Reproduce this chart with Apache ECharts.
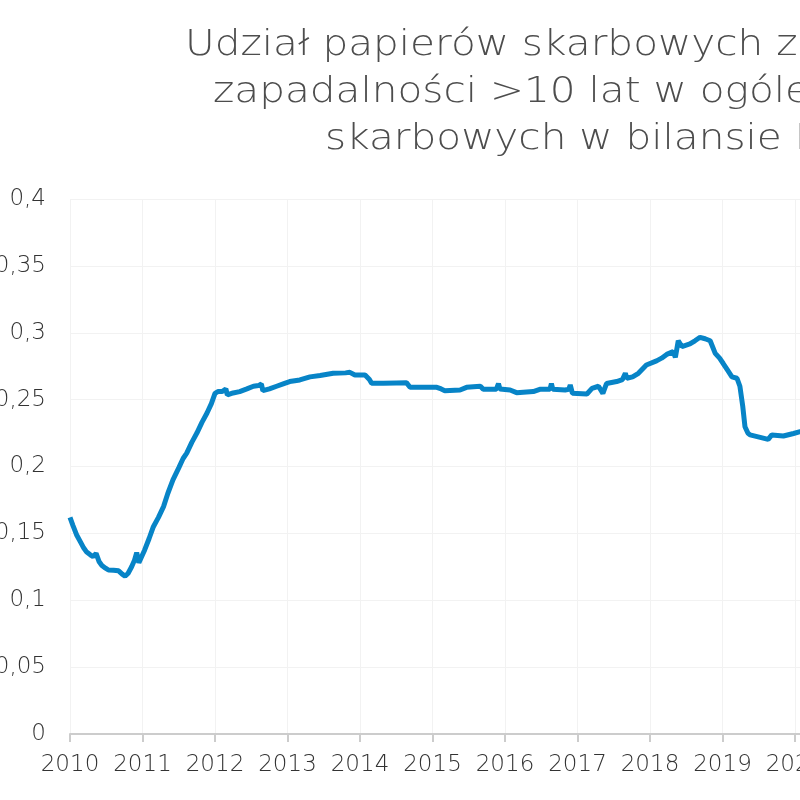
<!DOCTYPE html>
<html>
<head>
<meta charset="utf-8">
<script src="https://cdn.jsdelivr.net/npm/echarts@6/dist/echarts.min.js"></script>
<style>
html,body{margin:0;padding:0;background:#fff;}
#c{width:800px;height:800px;}
</style>
</head>
<body>
<div id="c"></div>
<script>
const titleLines = [
  'Udział papierów skarbowych z terminem',
  'zapadalności >10 lat w ogóle papierów',
  'skarbowych w bilansie Fed'
];
const yearTicks = [2010, 2011, 2012, 2013, 2014, 2015, 2016, 2017, 2018, 2019, 2020];
const dates = [
  2010.00, 2010.04, 2010.09, 2010.14, 2010.19, 2010.23, 2010.28, 2010.32, 2010.36, 2010.40,
  2010.44, 2010.49, 2010.53, 2010.60, 2010.67, 2010.72, 2010.76, 2010.80, 2010.85, 2010.89,
  2010.92, 2010.95, 2011.00, 2011.03, 2011.09, 2011.15, 2011.22, 2011.29, 2011.35, 2011.42,
  2011.50, 2011.56, 2011.61, 2011.68, 2011.75, 2011.82, 2011.89, 2011.95, 2012.00, 2012.04,
  2012.10, 2012.15, 2012.17, 2012.25, 2012.34, 2012.44, 2012.53, 2012.60, 2012.64, 2012.66,
  2012.75, 2012.85, 2012.95, 2013.03, 2013.17, 2013.31, 2013.45, 2013.63, 2013.80, 2013.86,
  2013.93, 2014.07, 2014.13, 2014.16, 2014.32, 2014.50, 2014.64, 2014.69, 2014.90, 2015.06,
  2015.12, 2015.17, 2015.38, 2015.47, 2015.66, 2015.70, 2015.88, 2015.91, 2015.93, 2016.07,
  2016.16, 2016.39, 2016.48, 2016.62, 2016.64, 2016.66, 2016.83, 2016.88, 2016.90, 2016.93,
  2017.13, 2017.20, 2017.29, 2017.35, 2017.40, 2017.54, 2017.62, 2017.66, 2017.68, 2017.76,
  2017.84, 2017.95, 2018.09, 2018.16, 2018.23, 2018.32, 2018.35, 2018.39, 2018.44, 2018.55,
  2018.62, 2018.69, 2018.76, 2018.83, 2018.90, 2018.96, 2019.01, 2019.07, 2019.13, 2019.20,
  2019.24, 2019.28, 2019.31, 2019.35, 2019.38, 2019.52, 2019.63, 2019.68, 2019.84, 2019.98,
  2020.07, 2020.15
];
const shares = [
  0.162, 0.156, 0.149, 0.144, 0.139, 0.136, 0.134, 0.1326, 0.135, 0.129,
  0.126, 0.124, 0.1226, 0.1225, 0.122, 0.1195, 0.118, 0.120, 0.125, 0.130,
  0.1356, 0.128, 0.134, 0.1376, 0.146, 0.155, 0.162, 0.170, 0.180, 0.190,
  0.199, 0.206, 0.210, 0.218, 0.225, 0.233, 0.240, 0.247, 0.2547, 0.256,
  0.256, 0.258, 0.2535, 0.255, 0.256, 0.258, 0.260, 0.2605, 0.2617, 0.2567,
  0.258, 0.260, 0.262, 0.2635, 0.2647, 0.267, 0.268, 0.2697, 0.270, 0.2704,
  0.2684, 0.2684, 0.265, 0.2622, 0.2622, 0.2625, 0.2627, 0.2592, 0.2592, 0.2592,
  0.258, 0.2567, 0.2572, 0.2592, 0.260, 0.2577, 0.2577, 0.262, 0.258, 0.2572,
  0.2552, 0.256, 0.2577, 0.2577, 0.262, 0.2577, 0.2572, 0.2577, 0.261, 0.2547,
  0.2542, 0.2584, 0.260, 0.2547, 0.262, 0.2635, 0.265, 0.2697, 0.266, 0.267,
  0.2697, 0.2759, 0.279, 0.281, 0.2838, 0.2859, 0.2816, 0.294, 0.2897, 0.2916,
  0.294, 0.2966, 0.2955, 0.294, 0.2846, 0.281, 0.277, 0.272, 0.267, 0.266,
  0.260, 0.2447, 0.2297, 0.2250, 0.2236, 0.2218, 0.2203, 0.2236, 0.2228, 0.2247,
  0.226, 0.2262
];
const yTicks = [0, 0.05, 0.1, 0.15, 0.2, 0.25, 0.3, 0.35, 0.4];

const FONT = 'DejaVu Sans';
// visible window ends just past 2020 (the rest of the chart is cropped)
const xMax = 2020.069;
const titleX = [185, 213, 325];
const titleY = [46, 93, 140];
const chart = echarts.init(document.getElementById('c'), null, {renderer: 'canvas'});
chart.setOption({
  animation: false,
  backgroundColor: '#ffffff',
  graphic: titleLines.map((t, i) => ({
    type: 'text',
    x: titleX[i],
    y: titleY[i],
    scaleX: 1.16,
    silent: true,
    style: {
      text: t,
      fill: '#4d4d4d',
      font: '200 35px "DejaVu Sans"',
      align: 'left',
      verticalAlign: 'middle'
    }
  })),
  grid: {left: 70, top: 199, right: 0, bottom: 66, containLabel: false, outerBoundsMode: 'none'},
  xAxis: {
    type: 'value',
    min: yearTicks[0],
    max: xMax,
    interval: 1,
    axisLine: {lineStyle: {color: '#cccccc', width: 2}},
    axisTick: {show: true, length: 8, lineStyle: {color: '#cccccc', width: 2}},
    axisLabel: {fontFamily: FONT, fontSize: 23, fontWeight: 200, color: '#333', margin: 20,
      showMaxLabel: false,
      formatter: v => (Math.abs(v - Math.round(v)) < 1e-6 ? String(Math.round(v)) : '')},
    splitLine: {show: true, lineStyle: {color: '#f2f2f2', width: 1}}
  },
  yAxis: {
    type: 'value',
    min: yTicks[0],
    max: yTicks[yTicks.length - 1],
    interval: 0.05,
    axisLine: {show: false},
    axisTick: {show: false},
    axisLabel: {fontFamily: FONT, fontSize: 23, fontWeight: 200, color: '#333', margin: 24,
      formatter: v => String(Math.round(v * 100) / 100).replace('.', ',')},
    splitLine: {show: true, lineStyle: {color: '#f2f2f2', width: 1}}
  },
  series: [{
    type: 'line',
    data: dates.map((d, i) => [d, shares[i]]),
    showSymbol: false,
    symbol: 'none',
    lineStyle: {color: '#0784c7', width: 5},
    z: 5
  }]
});
</script>
</body>
</html>
